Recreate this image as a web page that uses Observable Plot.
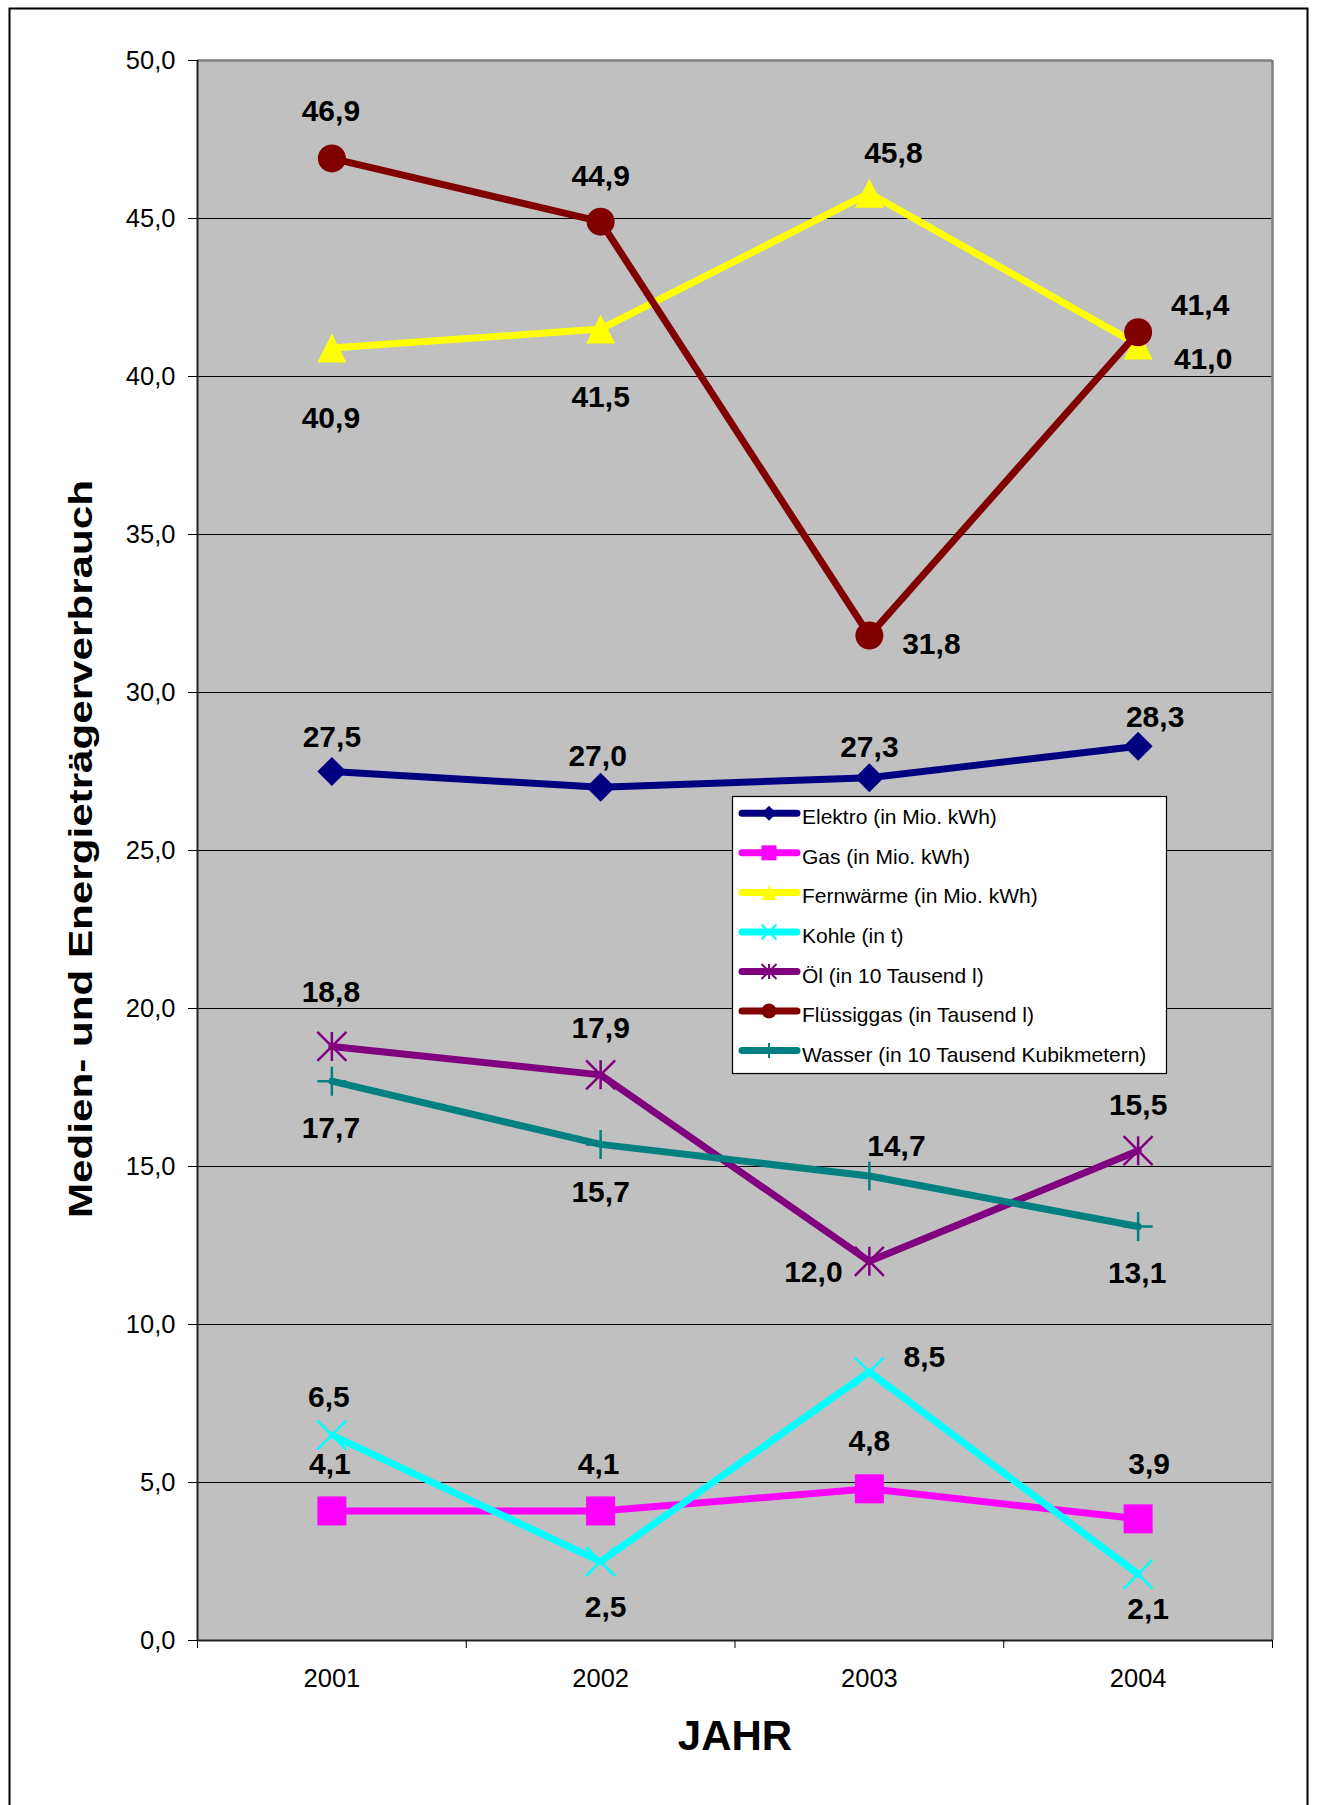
<!DOCTYPE html>
<html><head><meta charset="utf-8">
<script src="https://cdn.jsdelivr.net/npm/d3@7"></script>
<script src="https://cdn.jsdelivr.net/npm/@observablehq/plot@0.6"></script>
<style>
html,body{margin:0;padding:0;background:#fff;}
#wrap{position:relative;width:1317px;height:1805px;overflow:hidden;font-family:"Liberation Sans",Arial,sans-serif;}
#wrap > svg{position:absolute;left:0;top:0;}
#overlay{pointer-events:none;}
</style></head><body><div id="wrap"></div>
<script>
// ---------------- data ----------------
const years = [2001, 2002, 2003, 2004];
const seriesNames = [
  "Elektro (in Mio. kWh)",
  "Gas (in Mio. kWh)",
  "Fernwärme (in Mio. kWh)",
  "Kohle (in t)",
  "Öl (in 10 Tausend l)",
  "Flüssiggas (in Tausend l)",
  "Wasser (in 10 Tausend Kubikmetern)"
];
const elektro     = [27.5, 27.0, 27.3, 28.3];
const gas         = [4.1, 4.1, 4.8, 3.85];
const fernwaerme  = [40.9, 41.5, 45.8, 41.0];
const kohle       = [6.5, 2.5, 8.5, 2.1];
const oel         = [18.8, 17.9, 12.0, 15.5];
const fluessiggas = [46.9, 44.9, 31.8, 41.4];
const wasser      = [17.7, 15.7, 14.7, 13.1];
const yTicks = [0, 5, 10, 15, 20, 25, 30, 35, 40, 45, 50];
const yLabel = "Medien- und Energieträgerverbrauch";
const xLabel = "JAHR";

const seriesValues = [elektro, gas, fernwaerme, kohle, oel, fluessiggas, wasser];

// ---------------- styles ----------------
const seriesColors = ["#000080", "#ff00ff", "#ffff00", "#00ffff", "#800080", "#800000", "#008080"];
const seriesMarkers = ["diamond", "square", "triangle", "times", "asterisk", "circle", "plus"];
// label offsets [dx, dy(baseline)] per series per year
const labelOffsets = [
  [[0,-25],[-3,-21],[0,-21],[17,-19]],
  [[-2,-37],[-2,-37],[0,-38],[11,-45]],
  [[-1,80],[0,78],[24,-30],[65,24]],
  [[-3,-28],[5,55],[55,-5],[10,45]],
  [[-1,-44],[0,-37],[-56,21],[0,-36]],
  [[-1,-37],[0,-36],[62,18],[62,-17]],
  [[-1,57],[0,58],[27,-20],[-1,56]]
];
const strokeSymbols = new Set(["times", "asterisk", "plus"]);

function makeSymbol(name, h) {
  const draws = {
    diamond(c){ c.moveTo(0,-h); c.lineTo(h,0); c.lineTo(0,h); c.lineTo(-h,0); c.closePath(); },
    square(c){ c.rect(-h,-h,2*h,2*h); },
    triangle(c){ c.moveTo(0,-h); c.lineTo(h,h); c.lineTo(-h,h); c.closePath(); },
    times(c){ c.moveTo(-h,-h); c.lineTo(h,h); c.moveTo(h,-h); c.lineTo(-h,h); },
    asterisk(c){ c.moveTo(-h,-h); c.lineTo(h,h); c.moveTo(h,-h); c.lineTo(-h,h); c.moveTo(0,-h); c.lineTo(0,h); },
    plus(c){ c.moveTo(-h,0); c.lineTo(h,0); c.moveTo(0,-h); c.lineTo(0,h); },
    circle(c){ c.moveTo(h,0); c.arc(0,0,h,0,2*Math.PI); c.closePath(); }
  };
  return {draw: draws[name]};
}
const fmt = d => d.toFixed(1).replace(".", ",");

// ---------------- plot ----------------
const boundaries = d3.range(years.length + 1).map(i => years[0] - 0.5 + i);
const gridTicks = yTicks.slice(1, -1);

const marks = [
  Plot.frame({fill: "#c0c0c0", stroke: null}),
  Plot.gridY(gridTicks, {stroke: "#000", strokeOpacity: 1, strokeWidth: 1}),
  Plot.ruleY([yTicks[yTicks.length - 1]], {stroke: "#808080", strokeWidth: 2.5}),
  Plot.ruleX([boundaries[boundaries.length - 1]], {stroke: "#808080", strokeWidth: 2.5}),
  Plot.ruleX([boundaries[0]], {stroke: "#222", strokeWidth: 2}),
  Plot.ruleY([yTicks[0]], {stroke: "#222", strokeWidth: 2}),
  Plot.axisY(yTicks, {tickSize: 9, tickPadding: 13, fontSize: 25.5, tickFormat: fmt, label: null, stroke: "#000"}),
  Plot.axisX(boundaries, {tickSize: 8, tickFormat: () => "", label: null, stroke: "#000"}),
  Plot.axisX(years, {tickSize: 0, tickPadding: 28.5, fontSize: 25.5, tickFormat: d => String(d), label: null})
];

seriesValues.forEach((vals, s) => {
  const data = years.map((yr, i) => ({year: yr, value: vals[i]}));
  const color = seriesColors[s];
  marks.push(Plot.line(data, {x: "year", y: "value", stroke: color, strokeWidth: 7,
    strokeLinejoin: "round", strokeLinecap: "round"}));
  const m = seriesMarkers[s];
  const isStroke = strokeSymbols.has(m);
  marks.push(Plot.dot(data, {x: "year", y: "value", r: 14,
    symbol: makeSymbol(m, m === "circle" ? 14 : 14.5),
    fill: isStroke ? "none" : color,
    stroke: isStroke ? color : "none",
    strokeWidth: isStroke ? 2.5 : 0}));
});

seriesValues.forEach((vals, s) => {
  years.forEach((yr, i) => {
    const [dx, dy] = labelOffsets[s][i];
    marks.push(Plot.text([{year: yr, value: vals[i]}], {
      x: "year", y: "value", text: d => fmt(d.value), dx, dy,
      fontSize: 30, fontWeight: "bold", fill: "#000",
      lineAnchor: "bottom", textAnchor: "middle"
    }));
  });
});

const chart = Plot.plot({
  width: 1317,
  height: 1805,
  marginLeft: 197,
  marginRight: 45,
  marginTop: 60,
  marginBottom: 165,
  style: {fontFamily: '"Liberation Sans", Arial, sans-serif', color: "#000", background: "transparent", overflow: "visible"},
  x: {type: "linear", domain: [boundaries[0], boundaries[boundaries.length - 1]], label: null},
  y: {domain: [yTicks[0], yTicks[yTicks.length - 1]], label: null},
  marks
});
const wrap = document.getElementById("wrap");
wrap.appendChild(chart);

// ---------------- overlay: frame, axis titles, legend ----------------
const ov = d3.select(wrap).append("svg").attr("id", "overlay")
  .attr("width", 1317).attr("height", 1805)
  .style("font-family", '"Liberation Sans", Arial, sans-serif');

ov.append("rect").attr("x", 9.5).attr("y", 8.5).attr("width", 1298).attr("height", 1830)
  .attr("fill", "none").attr("stroke", "#000").attr("stroke-width", 2);

ov.append("text")
  .attr("transform", "translate(91.5,849) rotate(-90)")
  .attr("text-anchor", "middle")
  .attr("font-size", 33).attr("font-weight", "bold").attr("fill", "#000")
  .attr("textLength", 738).attr("lengthAdjust", "spacingAndGlyphs")
  .text(yLabel);

ov.append("text")
  .attr("x", 735).attr("y", 1750)
  .attr("text-anchor", "middle")
  .attr("font-size", 42).attr("font-weight", "bold").attr("fill", "#000")
  .text(xLabel);

const lg = ov.append("g").attr("transform", "translate(732,796)");
lg.append("rect").attr("x", 0.5).attr("y", 0.5).attr("width", 434).attr("height", 277)
  .attr("fill", "#fff").attr("stroke", "#000").attr("stroke-width", 1.2);
seriesNames.forEach((name, s) => {
  const cy = 17.3 + s * 39.55;
  const g = lg.append("g");
  g.append("line").attr("x1", 10).attr("x2", 65).attr("y1", cy).attr("y2", cy)
    .attr("stroke", seriesColors[s]).attr("stroke-width", 7).attr("stroke-linecap", "round");
  const m = seriesMarkers[s];
  const isStroke = strokeSymbols.has(m);
  const p = d3.path();
  makeSymbol(m, 7.5).draw(p);
  g.append("path").attr("d", p.toString()).attr("transform", `translate(37,${cy})`)
    .attr("fill", isStroke ? "none" : seriesColors[s])
    .attr("stroke", isStroke ? seriesColors[s] : "none")
    .attr("stroke-width", 2);
  g.append("text").attr("x", 70).attr("y", cy + 11).attr("font-size", 21).attr("fill", "#000")
    .text(name);
});
</script>
</body></html>
